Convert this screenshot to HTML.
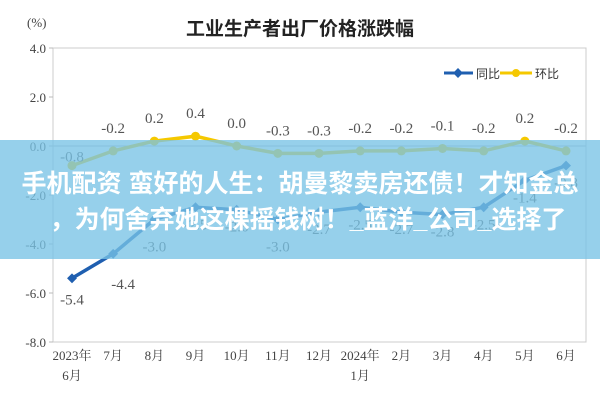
<!DOCTYPE html>
<html><head><meta charset="utf-8">
<style>
html,body{margin:0;padding:0;background:#fff;}
body{width:600px;height:400px;overflow:hidden;position:relative;font-family:"Liberation Serif","Noto Serif CJK SC",serif;}
#banner{position:absolute;left:0;top:140px;width:600px;height:119px;background:rgba(120,195,230,0.78);}
.bt{position:absolute;left:0;width:600px;text-align:center;color:#fff;font-family:"Liberation Sans","Noto Sans CJK SC",sans-serif;font-weight:bold;font-size:25px;line-height:30px;white-space:nowrap;}
</style></head><body>
<svg id="chart" width="600" height="400" style="position:absolute;left:0;top:0">
<text x="27" y="27" font-size="13" fill="#444" font-family="Liberation Serif">(%)</text>
<text x="300" y="35" font-size="19" text-anchor="middle" fill="#222" font-family="Liberation Sans, Noto Sans CJK SC, sans-serif" font-weight="bold">工业生产者出厂价格涨跌幅</text>
<rect x="53" y="48" width="533" height="294" fill="none" stroke="#ccc"/>
<g id="yaxis"></g><g id="xaxis"></g><g id="series"></g>
<g>
<line x1="444" y1="73" x2="473" y2="73" stroke="#1f5fb0" stroke-width="3"/><rect x="454.5" y="69.5" width="7" height="7" fill="#1f5fb0" transform="rotate(45 458 73)"/>
<text x="476" y="78" font-size="12" fill="#333" font-family="Liberation Sans, Noto Sans CJK SC, sans-serif">同比</text>
<line x1="500" y1="73" x2="532" y2="73" stroke="#f5c800" stroke-width="3"/><circle cx="516" cy="73" r="4" fill="#f5c800"/>
<text x="535" y="78" font-size="12" fill="#333" font-family="Liberation Sans, Noto Sans CJK SC, sans-serif">环比</text>
</g>
</svg>
<div id="banner"></div>
<div class="bt" style="top:169px">手机配资 蛮好的人生：胡曼黎卖房还债！才知金总</div>
<div class="bt" style="top:205px;padding-left:8px">，为何舍弃她这棵摇钱树！_蓝洋_公司_选择了</div>
<script>
const categories=["2023年|6月","7月","8月","9月","10月","11月","12月","2024年|1月","2月","3月","4月","5月","6月"];
const yoyValues=[-5.4,-4.4,-3.0,-2.5,-2.6,-3.0,-2.7,-2.5,-2.7,-2.8,-2.5,-1.4,-0.8];
const momValues=[-0.8,-0.2,0.2,0.4,0.0,-0.3,-0.3,-0.2,-0.2,-0.1,-0.2,0.2,-0.2];
const yTicks=[4.0,2.0,0.0,-2.0,-4.0,-6.0,-8.0];
const NS="http://www.w3.org/2000/svg";
function yS(v){return 146-v*24.5;}
function xS(i){return 72+i*41.17;}
function mk(t,a,p){const e=document.createElementNS(NS,t);for(const k in a)e.setAttribute(k,a[k]);p.appendChild(e);return e;}
const ya=document.getElementById('yaxis'),xa=document.getElementById('xaxis'),sg=document.getElementById('series');
yTicks.forEach(v=>{
 const t=mk('text',{x:46,y:yS(v)+5,'font-size':13,fill:'#444','text-anchor':'end'},ya);t.textContent=v.toFixed(1);
 
 
 mk('line',{x1:49,x2:53,y1:yS(v),y2:yS(v),stroke:'#bbb'},ya);
});
mk('line',{x1:53,x2:586,y1:yS(0),y2:yS(0),stroke:'#bbb'},ya);
categories.forEach((c,i)=>{
 const p=c.split('|');
 p.forEach((s,j)=>{const t=mk('text',{x:xS(i),y:360+j*20,'font-size':13,fill:'#444','text-anchor':'middle'},xa);t.textContent=s;
 
 });
});
function series(vals,color,name,isDiamond,labelOff){
 const pts=vals.map((v,i)=>xS(i)+','+yS(v)).join(' ');
 const l=mk('polyline',{points:pts,fill:'none',stroke:color,'stroke-width':3.5},sg);
 
 
 vals.forEach((v,i)=>{
  let m;
  if(isDiamond){m=mk('rect',{x:xS(i)-3.5,y:yS(v)-3.5,width:7,height:7,fill:color,transform:'rotate(45 '+xS(i)+' '+yS(v)+')'},sg);}
  else{m=mk('circle',{cx:xS(i),cy:yS(v),r:4.5,fill:color},sg);}
  
  
  const t=mk('text',{x:xS(i)+(isDiamond&&i==1?10:0),y:labelOff(v,i),'font-size':15,fill:'#555','text-anchor':'middle'},sg);
  t.textContent=v.toFixed(1);
  
  
 });
}
series(momValues,'#f5c800','mom',false,(v,i)=>i==0?yS(v)-4:yS(v)-18);
series(yoyValues,'#1f5fb0','yoy',true,(v,i)=>i==0?yS(v)+26:(i==1?yS(v)+35:yS(v)+(v<=-3?32:22)));
</script>
</body></html>
